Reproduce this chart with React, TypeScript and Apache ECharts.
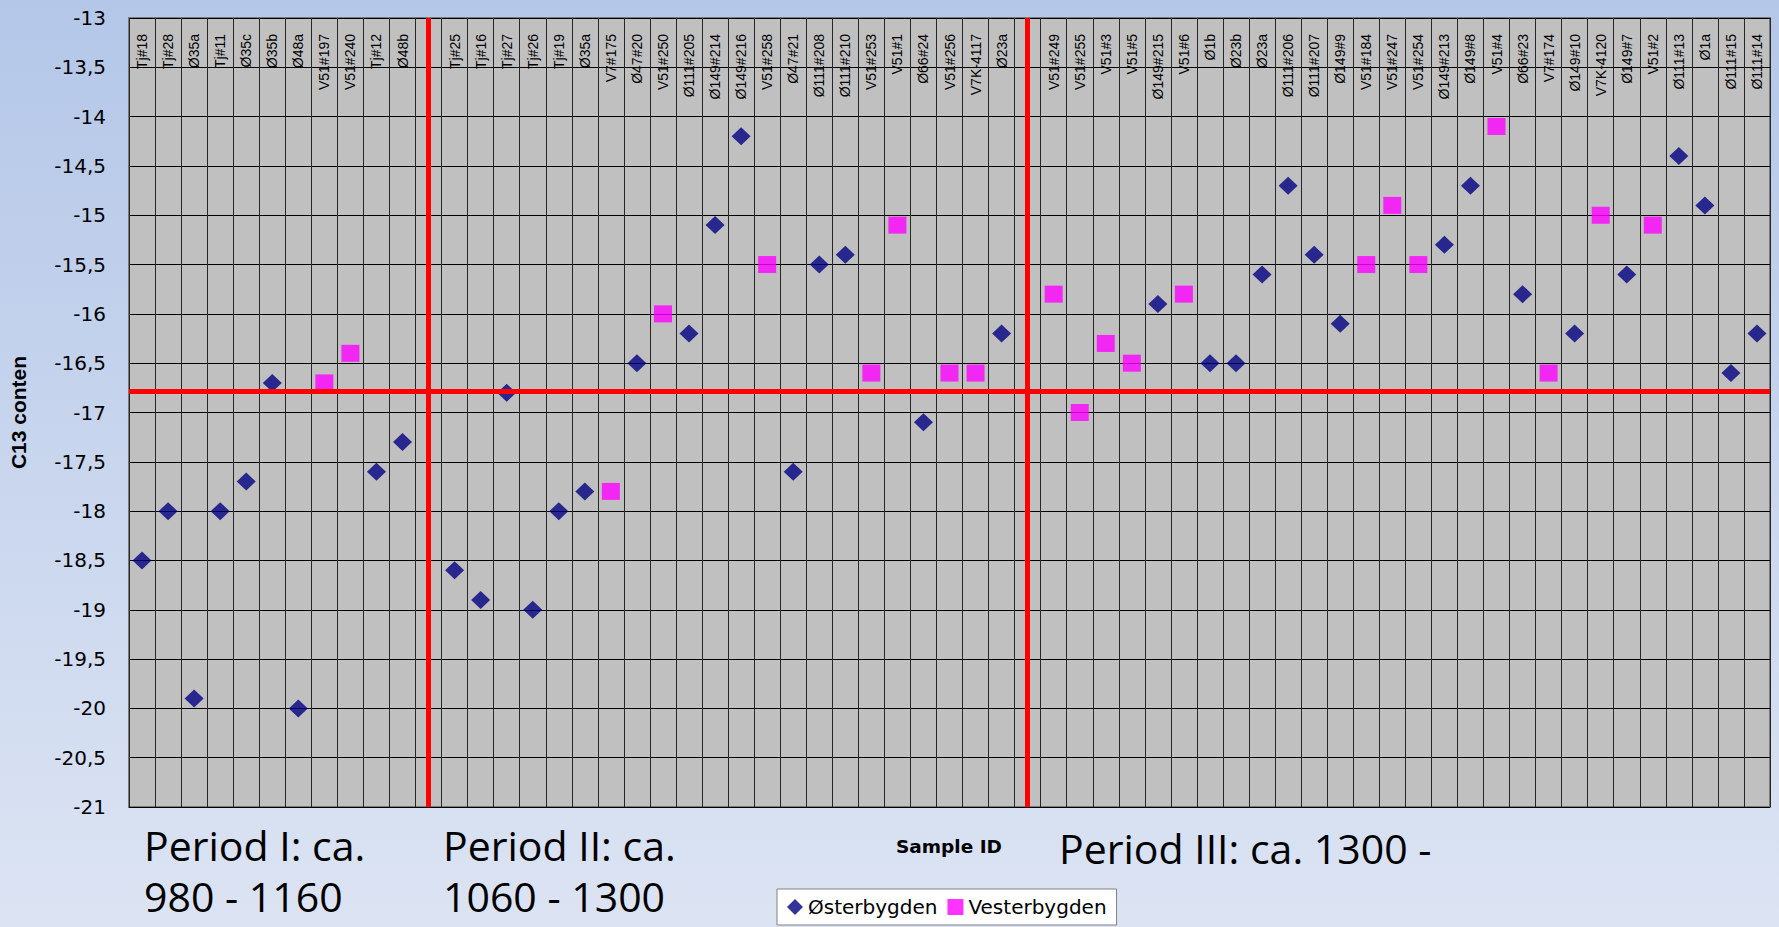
import React, { useEffect, useRef } from "react";
import * as echarts from "echarts";

const categories: string[] = [
  "Tj#18", "Tj#28", "Ø35a", "Tj#11", "Ø35c", "Ø35b", "Ø48a", "V51#197", "V51#240", "Tj#12", "Ø48b", "",
  "Tj#25", "Tj#16", "Tj#27", "Tj#26", "Tj#19", "Ø35a", "V7#175", "Ø47#20", "V51#250", "Ø111#205",
  "Ø149#214", "Ø149#216", "V51#258", "Ø47#21", "Ø111#208", "Ø111#210", "V51#253", "V51#1", "Ø66#24",
  "V51#256", "V7K-4117", "Ø23a", "",
  "V51#249", "V51#255", "V51#3", "V51#5", "Ø149#215", "V51#6", "Ø1b", "Ø23b", "Ø23a", "Ø111#206",
  "Ø111#207", "Ø149#9", "V51#184", "V51#247", "V51#254", "Ø149#213", "Ø149#8", "V51#4", "Ø66#23",
  "V7#174", "Ø149#10", "V7K-4120", "Ø149#7", "V51#2", "Ø111#13", "Ø1a", "Ø111#15", "Ø111#14",
];

const N = null;
// Østerbygden (Eastern Settlement) values, aligned with categories
const osterbygden: (number | null)[] = [
  -18.5, -18.0, -19.9, -18.0, -17.7, -16.7, -20.0, N, N, -17.6, -17.3, N,
  -18.6, -18.9, -16.8, -19.0, -18.0, -17.8, N, -16.5, N, -16.2,
  -15.1, -14.2, N, -17.6, -15.5, -15.4, N, N, -17.1,
  N, N, -16.2, N,
  N, N, N, N, -15.9, N, -16.5, -16.5, -15.6, -14.7,
  -15.4, -16.1, N, N, N, -15.3, -14.7, N, -15.8,
  N, -16.2, N, -15.6, N, -14.4, -14.9, -16.6, -16.2,
];
// Vesterbygden (Western Settlement) values, aligned with categories
const vesterbygden: (number | null)[] = [
  N, N, N, N, N, N, N, -16.7, -16.4, N, N, N,
  N, N, N, N, N, N, -17.8, N, -16.0, N,
  N, N, -15.5, N, N, N, -16.6, -15.1, N,
  -16.6, -16.6, N, N,
  -15.8, -17.0, -16.3, -16.5, N, -15.8, N, N, N, N,
  N, N, -15.5, -14.9, -15.5, N, N, -14.1, N,
  -16.6, N, -15.0, N, -15.1, N, N, N, N,
];

// reference lines: period separators (category index) and overall level
const periodSeparators: number[] = [11, 34];
const referenceLevel = -16.78;

const periodLabels: string[][] = [
  ["Period I: ca.", "980 - 1160"],
  ["Period II: ca.", "1060 - 1300"],
  ["Period III: ca. 1300 -"],
];

export default function App() {
  const ref = useRef<HTMLDivElement>(null);
  useEffect(() => {
    document.body.style.margin = "0";
    const chart = echarts.init(ref.current!, null, { renderer: "svg" });
    const periodFont = "'Open Sans', 'Noto Sans', sans-serif";
    const dejavu = "'DejaVu Sans', 'Liberation Sans', sans-serif";
    const periodLeft = [144, 443, 1059];
    const periodTop = [[824, 875], [824, 875], [827]];
    const option: any = {
      animation: false,
      backgroundColor: {
        type: "linear", x: 0, y: 0, x2: 0, y2: 1,
        colorStops: [
          { offset: 0, color: "#b4c7e8" },
          { offset: 1, color: "#dce4f3" },
        ],
      },
      grid: {
        left: 122, right: 9, top: 18, bottom: 120,
        show: true, backgroundColor: "#c0c0c0", borderColor: "#7a7a7a", borderWidth: 2,
        containLabel: false,
      },
      legend: {
        data: ["Østerbygden", "Vesterbygden"],
        left: 777, top: 889,
        padding: [8, 10, 8, 10],
        backgroundColor: "#ffffff", borderColor: "#808080", borderWidth: 1,
        itemWidth: 16, itemHeight: 16, itemGap: 10,
        textStyle: { fontFamily: dejavu, fontSize: 20, color: "#000" },
      },
      xAxis: {
        type: "category",
        data: categories,
        position: "top",
        boundaryGap: true,
        axisLine: { show: false, onZero: false },
        axisTick: { show: false },
        axisLabel: {
          inside: true, rotate: -90, interval: 0, margin: 16,
          fontFamily: "'Liberation Sans Narrow', 'Arial Narrow', 'Liberation Sans', sans-serif",
          fontSize: 14, color: "#000",
        },
        splitLine: { show: true, interval: 0, lineStyle: { color: "#262626", width: 1 } },
      },
      yAxis: {
        type: "value",
        min: -21, max: -13, interval: 0.5,
        name: "C13 conten",
        nameLocation: "middle",
        nameGap: 100,
        nameTextStyle: { fontFamily: "'Liberation Sans', Arial, sans-serif", fontSize: 21, fontWeight: "bold", color: "#000" },
        axisLine: { show: false },
        axisTick: { show: false },
        axisLabel: {
          margin: 23,
          fontFamily: dejavu, fontSize: 20, color: "#000",
          formatter: (v: number) => String(v).replace(".", ","),
        },
        splitLine: { show: true, lineStyle: { color: "#000", width: 1 } },
      },
      graphic: [
        ...periodLabels.flatMap((lines, p) =>
          lines.map((t, i) => ({
            type: "text", left: periodLeft[p], top: periodTop[p][i],
            style: { text: t, font: `41px ${periodFont}`, fill: "#000" },
          }))
        ),
        {
          type: "text", left: 896, top: 837,
          style: { text: "Sample ID", font: `bold 18.5px ${dejavu}`, fill: "#000" },
        },
      ],
      series: [
        {
          name: "refLines",
          type: "scatter",
          data: [],
          z: 2,
          markLine: {
            silent: true,
            symbol: ["none", "none"],
            label: { show: false },
            lineStyle: { color: "#ff0000", width: 5, type: "solid" },
            data: [
              ...periodSeparators.map((i) => ({ xAxis: i })),
              { yAxis: referenceLevel },
            ],
          },
        },
        {
          name: "Østerbygden",
          type: "scatter",
          z: 3,
          symbol: "diamond",
          symbolSize: [19, 18],
          itemStyle: { color: "#000080" },
          data: osterbygden,
        },
        {
          name: "Vesterbygden",
          type: "scatter",
          z: 3,
          symbol: "rect",
          symbolSize: [18, 17],
          itemStyle: { color: "#ff00ff" },
          data: vesterbygden,
        },
      ],
    };
    chart.setOption(option);
    return () => chart.dispose();
  }, []);
  return <div ref={ref} style={{ position: "absolute", left: 0, top: 0, width: 1779, height: 927 }} />;
}
